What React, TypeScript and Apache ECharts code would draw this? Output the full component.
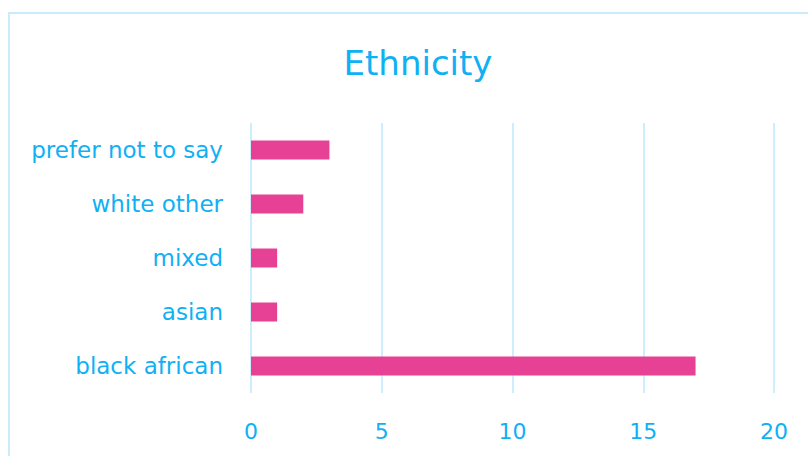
import React, { useEffect, useRef } from "react";
import * as echarts from "echarts";

const categories = ["black african", "asian", "mixed", "white other", "prefer not to say"];
const counts = [17, 1, 1, 2, 3];
const xTicks = { min: 0, max: 20, interval: 5 };

const BLUE = "#10b0f4";
const PINK = "#e64194";
const LINE = "#cdeefc";
const FONT = "'DejaVu Sans', sans-serif";

export default function App() {
  const ref = useRef<HTMLDivElement>(null);
  useEffect(() => {
    if (!ref.current) return;
    const chart = echarts.init(ref.current, undefined, { renderer: "svg" });
    chart.setOption({
      animation: false,
      backgroundColor: "#fff",
      graphic: [
        {
          type: "rect",
          shape: { x: 9, y: 13, width: 900, height: 600 },
          style: { fill: "none", stroke: "#c9ecfb", lineWidth: 2 },
          silent: true,
        },
      ],
      title: {
        text: "Ethnicity",
        left: 413,
        top: 41,
        textAlign: "center",
        textStyle: { color: BLUE, fontSize: 34, fontWeight: "normal", fontFamily: FONT },
      },
      grid: { left: 251, right: 34, top: 123, bottom: 63, containLabel: false },
      xAxis: {
        type: "value",
        min: xTicks.min,
        max: xTicks.max,
        interval: xTicks.interval,
        axisLine: { show: false },
        axisTick: { show: false },
        axisLabel: { color: BLUE, fontSize: 22, fontFamily: FONT, margin: 27 },
        splitLine: { show: true, lineStyle: { color: LINE, width: 2 } },
      },
      yAxis: {
        type: "category",
        data: categories,
        axisLine: { show: false },
        axisTick: { show: false },
        axisLabel: { color: BLUE, fontSize: 23, fontFamily: FONT, margin: 28 },
        splitLine: { show: false },
      },
      series: [
        {
          type: "bar",
          data: counts,
          barWidth: 19,
          itemStyle: { color: PINK },
        },
      ],
    });
    return () => chart.dispose();
  }, []);
  return (
    <div
      ref={ref}
      style={{ position: "fixed", left: 0, top: 0, width: 808, height: 456 }}
    />
  );
}
